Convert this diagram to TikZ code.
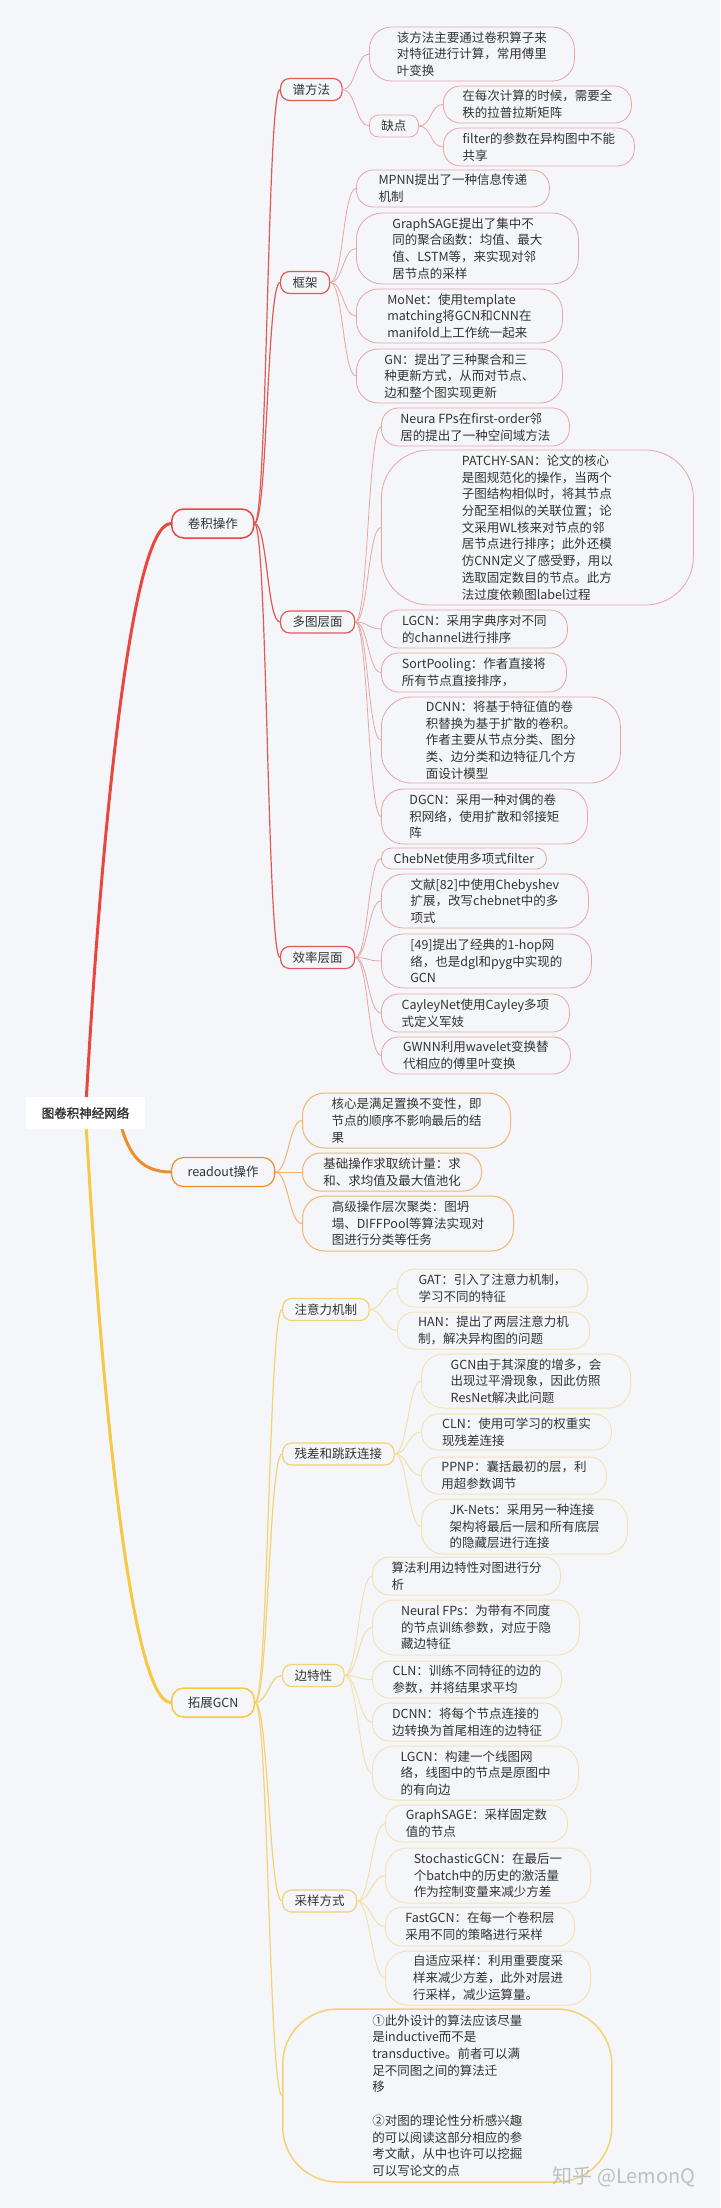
\documentclass[tikz,border=0pt]{standalone}
\usepackage{fontspec}
\setmainfont{Noto Sans CJK SC}
\newfontfamily\rootfont{Noto Sans CJK SC}[FakeBold=2]
\usetikzlibrary{backgrounds}
\definecolor{pagebg}{HTML}{F5F6FA}
\definecolor{txt}{HTML}{333333}
\definecolor{redmain}{HTML}{E8473E}
\definecolor{redsub}{HTML}{DE5A56}
\definecolor{redleaf}{HTML}{E6A6A3}
\definecolor{orgmain}{HTML}{F08C2E}
\definecolor{orgleaf}{HTML}{F2B46E}
\definecolor{ylwmain}{HTML}{F7C843}
\definecolor{ylwsub}{HTML}{F3D273}
\definecolor{ylwleaf}{HTML}{F2E3B6}
\begin{document}
\begin{tikzpicture}[x=1pt,y=-1pt,
  every node/.style={inner sep=0pt,align=left,text=txt,font=\fontsize{12.5}{16.7}\selectfont},
  sz/.style 2 args={minimum width=#1,minimum height=#2,anchor=west},
  mainbox/.style={line width=1.5pt,rounded corners=12pt,inner xsep=16pt,minimum height=29pt,anchor=west},
  subbox/.style={line width=1.2pt,rounded corners=9pt,inner xsep=12pt,minimum height=22pt,anchor=west},
  lr/.style={draw=redleaf,line width=0.8pt,rounded corners=17pt},
  lo/.style={draw=orgleaf,line width=1pt,rounded corners=18pt},
  ly/.style={draw=ylwleaf,line width=1pt,rounded corners=17pt},
  linkr/.style={redleaf,line width=0.8pt},
  linko/.style={orgleaf,line width=1pt},
  linky/.style={ylwleaf!85!ylwsub,line width=1pt}]
\useasboundingbox (0,0) rectangle (720,2208);

\node[fill=white,rounded corners=2pt,minimum width=119,minimum height=32,font=\rootfont\fontsize{12.5}{16.7}\selectfont] (root) at (85.5,1113) {图卷积神经网络};

\node[mainbox,draw=redmain] (conv) at (171,523.5) {卷积操作};
\node[mainbox,draw=orgmain,line width=1.2pt] (readout) at (171,1172) {readout操作};
\node[mainbox,draw=ylwmain] (ext) at (171,1702.5) {拓展GCN};

\node[subbox,draw=redsub] (spec) at (280,89.5) {谱方法};
\node[subbox,draw=redsub] (frame) at (280,282.5) {框架};
\node[subbox,draw=redsub] (multi) at (280,622) {多图层面};
\node[subbox,draw=redsub] (eff) at (280,957.5) {效率层面};
\node[subbox,draw=redleaf,line width=0.8pt] (qd) at (369,126) {缺点};

\node[lr,sz={205}{54},rounded corners=22pt] (s1) at (369,54) {该方法主要通过卷积算子来\\对特征进行计算，常用傅里\\叶变换};
\node[lr,sz={188}{37}] (q1) at (443,104.5) {在每次计算的时候，需要全\\秩的拉普拉斯矩阵};
\node[lr,sz={191}{38}] (q2) at (443,147) {filter的参数在异构图中不能\\共享};
\node[lr,sz={193}{37}] (f1) at (356,188.5) {MPNN提出了一种信息传递\\机制};
\node[lr,sz={222}{71},rounded corners=26pt] (f2) at (356,248.5) {GraphSAGE提出了集中不\\同的聚合函数：均值、最大\\值、LSTM等，来实现对邻\\居节点的采样};
\node[lr,sz={206}{54},rounded corners=22pt] (f3) at (356,316) {MoNet：使用template\\matching将GCN和CNN在\\manifold上工作统一起来};
\node[lr,sz={206}{54},rounded corners=22pt] (f4) at (356,376) {GN：提出了三种聚合和三\\种更新方式，从而对节点、\\边和整个图实现更新};
\node[lr,sz={188}{38}] (m1) at (381,427) {Neura FPs在first-order邻\\居的提出了一种空间域方法};
\node[lr,sz={312}{155},rounded corners=48pt] (m2) at (381,527.5) {PATCHY-SAN：论文的核心\\是图规范化的操作，当两个\\子图结构相似时，将其节点\\分配至相似的关联位置；论\\文采用WL核来对节点的邻\\居节点进行排序；此外还模\\仿CNN定义了感受野，用以\\选取固定数目的节点。此方\\法过度依赖图label过程};
\node[lr,sz={186}{38}] (m3) at (381,629) {LGCN：采用字典序对不同\\的channel进行排序};
\node[lr,sz={185}{39}] (m4) at (381,672.5) {SortPooling：作者直接将\\所有节点直接排序，};
\node[lr,sz={239}{86},rounded corners=30pt] (m5) at (381,740) {DCNN：将基于特征值的卷\\积替换为基于扩散的卷积。\\作者主要从节点分类、图分\\类、边分类和边特征几个方\\面设计模型};
\node[lr,sz={206}{55},rounded corners=22pt] (m6) at (381,816.5) {DGCN：采用一种对偶的卷\\积网络，使用扩散和邻接矩\\阵};
\node[lr,sz={165}{21},rounded corners=10pt] (e1) at (381,858.5) {ChebNet使用多项式filter};
\node[lr,sz={207}{54},rounded corners=22pt] (e2) at (381,901) {文献[82]中使用Chebyshev\\扩展，改写chebnet中的多\\项式};
\node[lr,sz={210}{54},rounded corners=22pt] (e3) at (381,961) {[49]提出了经典的1-hop网\\络，也是dgl和pyg中实现的\\GCN};
\node[lr,sz={188}{38}] (e4) at (381,1013) {CayleyNet使用Cayley多项\\式定义军妓};
\node[lr,sz={189}{37}] (e5) at (381,1055.5) {GWNN利用wavelet变换替\\代相应的傅里叶变换};

\node[lo,sz={208}{55},rounded corners=22pt] (o1) at (302,1120.5) {核心是满足置换不变性，即\\节点的顺序不影响最后的结\\果};
\node[lo,sz={179}{38}] (o2) at (302,1172) {基础操作求取统计量：求\\和、求均值及最大值池化};
\node[lo,sz={211}{55},rounded corners=22pt] (o3) at (302,1223.5) {高级操作层次聚类：图坍\\塌、DIFFPool等算法实现对\\图进行分类等任务};

\node[subbox,draw=ylwsub] (att) at (282,1309.5) {注意力机制};
\node[subbox,draw=ylwsub] (res) at (282,1454) {残差和跳跃连接};
\node[subbox,draw=ylwsub] (edge) at (282,1675.5) {边特性};
\node[subbox,draw=ylwsub] (samp) at (282,1901) {采样方式};

\node[ly,sz={190}{38}] (a1) at (397,1288) {GAT：引入了注意力机制，\\学习不同的特征};
\node[ly,sz={192}{37}] (a2) at (397,1330.5) {HAN：提出了两层注意力机\\制，解决异构图的问题};
\node[ly,sz={209}{54},rounded corners=22pt] (r1) at (421,1381) {GCN由于其深度的增多，会\\出现过平滑现象，因此仿照\\ResNet解决此问题};
\node[ly,sz={190}{36}] (r2) at (421,1432) {CLN：使用可学习的权重实\\现残差连接};
\node[ly,sz={185}{37}] (r3) at (421,1475.5) {PPNP：囊括最初的层，利\\用超参数调节};
\node[ly,sz={206}{55},rounded corners=22pt] (r4) at (421,1526.5) {JK-Nets：采用另一种连接\\架构将最后一层和所有底层\\的隐藏层进行连接};
\node[ly,sz={188}{38}] (g1) at (372,1576) {算法利用边特性对图进行分\\析};
\node[ly,sz={207}{55},rounded corners=22pt] (g2) at (372,1627.5) {Neural FPs：为带有不同度\\的节点训练参数，对应于隐\\藏边特征};
\node[ly,sz={189}{37}] (g3) at (372,1679.5) {CLN：训练不同特征的边的\\参数，并将结果求平均};
\node[ly,sz={189}{38}] (g4) at (372,1722) {DCNN：将每个节点连接的\\边转换为首尾相连的边特征};
\node[ly,sz={206}{54},rounded corners=22pt] (g5) at (372,1773) {LGCN：构建一个线图网\\络，线图中的节点是原图中\\的有向边};
\node[ly,sz={182}{37}] (p1) at (385,1823.5) {GraphSAGE：采样固定数\\值的节点};
\node[ly,sz={205}{55},rounded corners=22pt] (p2) at (385,1875.5) {StochasticGCN：在最后一\\个batch中的历史的激活量\\作为控制变量来减少方差};
\node[ly,sz={189}{39}] (p3) at (385,1926.5) {FastGCN：在每一个卷积层\\采用不同的策略进行采样};
\node[ly,sz={205}{54},rounded corners=22pt] (p4) at (385,1978) {自适应采样：利用重要度采\\样来减少方差，此外对层进\\行采样，减少运算量。};
\node[ly,draw=ylwsub,line width=1.5pt,sz={329}{173},rounded corners=55pt] (note) at (282,2095.5) {①此外设计的算法应该尽量\\是inductive而不是\\transductive。前者可以满\\足不同图之间的算法迁\\移\\[16.7pt]②对图的理论性分析感兴趣\\的可以阅读这部分相应的参\\考文献，从中也许可以挖掘\\可以写论文的点};

\node[text=black!25,font=\fontsize{20}{20}\selectfont] (wm) at (624,2177) {知乎 @LemonQ};

\begin{scope}[on background layer]
\fill[pagebg] (0,0) rectangle (720,2208);
\draw[redmain,line width=3pt] (root.center) .. controls (100,850) and (130,523.5) .. (conv.west);
\draw[orgmain,line width=3pt] (118,1113) .. controls (126,1150) and (138,1172) .. (readout.west);
\draw[ylwmain,line width=3pt] (root.center) .. controls (100,1376) and (130,1702.5) .. (ext.west);
\foreach \u/\v in {conv/spec,conv/frame,conv/multi,conv/eff}
  \draw[redsub,line width=1.2pt] (\u.east) .. controls +(13,0) and +(-13,0) .. (\v.west);
\foreach \u/\v in {spec/s1,spec/qd,qd/q1,qd/q2,frame/f1,frame/f2,frame/f3,frame/f4,multi/m1,multi/m2,multi/m3,multi/m4,multi/m5,multi/m6,eff/e1,eff/e2,eff/e3,eff/e4,eff/e5}
  \draw[linkr] (\u.east) .. controls +(13,0) and +(-13,0) .. (\v.west);
\foreach \v in {o1,o2,o3}
  \draw[linko] (readout.east) .. controls +(13,0) and +(-13,0) .. (\v.west);
\foreach \v in {att,res,edge,samp,note}
  \draw[ylwsub,line width=1.2pt] (ext.east) .. controls +(13,0) and +(-13,0) .. (\v.west);
\foreach \u/\v in {att/a1,att/a2,res/r1,res/r2,res/r3,res/r4,edge/g1,edge/g2,edge/g3,edge/g4,edge/g5,samp/p1,samp/p2,samp/p3,samp/p4}
  \draw[linky] (\u.east) .. controls +(13,0) and +(-13,0) .. (\v.west);
\end{scope}
\end{tikzpicture}
\end{document}
